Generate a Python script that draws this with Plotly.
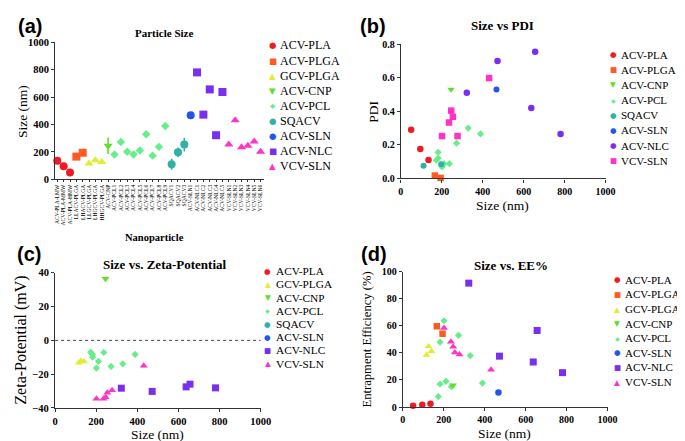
import plotly.graph_objects as go

W, H = 685, 441
SERIF = "Liberation Serif"
SANS = "Liberation Sans"

# ---------------- data ----------------
categories = ["ACV-PLA-LMW", "ACV-PLA-MMW", "ACV-PLA-HMW", "LLACV-PLGA", "LHACV-PLGA",
              "LLGCV-PLGA", "LHGCV-PLGA", "HHGCV-PLGA", "ACV-CNP",
              "ACV-PCL1", "ACV-PCL2", "ACV-PCL3", "ACV-PCL4", "ACV-PCL5", "ACV-PCL6",
              "ACV-PCL7", "ACV-PCL8", "ACV-PCL9", "SQACV1", "SQACV2", "SQACV3", "ACV-SLN1",
              "ACV-NLC1", "ACV-NLC2", "ACV-NLC3", "ACV-NLC4", "ACV-NLC5",
              "VCV-SLN1", "VCV-SLN2", "VCV-SLN3", "VCV-SLN4", "VCV-SLN5", "VCV-SLN6"]

pla_size = [135, 95, 50]
plga_size = [166, 194]
gcv_size = [116, 140, 126]
cnp_size = [245]
cnp_err = [60]
pcl_size = [182, 272, 201, 182, 211, 329, 173, 237, 389]
sq_size = [111, 197, 254]
sq_err = [40, 35, 50]
sln_size = [467]
nlc_size = [780, 472, 656, 322, 637]
vcv_size = [254, 431, 235, 246, 277, 201]

pla_pdi = [0.11, 0.175, 0.29]
plga_pdi = [0.017, 0.003]
cnp_pdi = [0.53]
pcl_pdi = [0.156, 0.21, 0.069, 0.12, 0.088, 0.30, 0.108, 0.088, 0.265]
sq_pdi = [0.075, 0.085, None]
sln_pdi = [0.53]
nlc_pdi = [0.265, 0.70, 0.755, 0.51, 0.42]
vcv_pdi = [0.367, 0.598, 0.333, 0.404, 0.252, 0.252]

gcv_zeta = [-13.3, -12.5, -12.2]
cnp_zeta = [36.4]
pcl_zeta = [-8.3, -15.4, -16.4, -9.9, -12.4, -13.9, -7.0, -7.2, -8.3]
nlc_zeta = [-28.1, -30.2, -25.9, -28.3, -27.5]
vcv_zeta = [-31.0, -15.0, -34.6, -33.7, -29.5, -34.6]

pla_ee = [2.4, 1.7, 1.0]
plga_ee = [59.7, 54.2]
gcv_ee = [38.4, 41.2, 44.8]
cnp_ee = [16]
pcl_ee = [48, 53, 63.8, 17, 19, 38, 7.7, 15, 17.7]
sln_ee = [10.8]
nlc_ee = [25.4, 37.6, 56.6, 91.6, 33.3]
vcv_ee = [40.3, 27.5, 48.2, 44.6, 38.8, 58.5]

colors = {"ACV-PLA": "#f01a22", "ACV-PLGA": "#ff5a22", "GCV-PLGA": "#dfee2e",
          "ACV-CNP": "#5ee02a", "ACV-PCL": "#66ee88", "SQACV": "#2fb2a4",
          "ACV-SLN": "#2255ee", "ACV-NLC": "#7a2ef0", "VCV-SLN": "#ff33c8"}

glyph = {"circle": "●", "square": "■", "triangle-up": "▲",
         "triangle-down": "▼", "diamond": "◆"}


def px(x):
    return x / W


def py(y):
    return 1 - y / H


fig = go.Figure()


def add(xa, ya, name, x, y, symbol, size, err=None):
    m = dict(color=colors[name], symbol=symbol, size=size, line=dict(width=0))
    tr = go.Scatter(x=x, y=y, mode="markers", marker=m, name=name,
                    xaxis=xa, yaxis=ya, showlegend=False, cliponaxis=False)
    if err is not None:
        tr.error_y = dict(type="data", array=err, width=0, thickness=1.6,
                          color=colors[name])
    fig.add_trace(tr)


# (a) particle size by formulation
idx = 0
def cats(n):
    global idx
    out = categories[idx:idx + n]
    idx += n
    return out

add("x", "y", "ACV-PLA", cats(3), pla_size, "circle", 8)
add("x", "y", "ACV-PLGA", cats(2), plga_size, "square", 8)
add("x", "y", "GCV-PLGA", cats(3), gcv_size, "triangle-up", 8)
add("x", "y", "ACV-CNP", cats(1), cnp_size, "triangle-down", 8, cnp_err)
add("x", "y", "ACV-PCL", cats(9), pcl_size, "diamond", 6.5)
add("x", "y", "SQACV", cats(3), sq_size, "circle", 8, sq_err)
add("x", "y", "ACV-SLN", cats(1), sln_size, "circle", 8)
add("x", "y", "ACV-NLC", cats(5), nlc_size, "square", 8)
add("x", "y", "VCV-SLN", cats(6), vcv_size, "triangle-up", 8)

# (b) size vs PDI
add("x2", "y2", "ACV-PLA", pla_size, pla_pdi, "circle", 6.5)
add("x2", "y2", "ACV-PLGA", plga_size, plga_pdi, "square", 6.5)
add("x2", "y2", "ACV-CNP", cnp_size, cnp_pdi, "triangle-down", 6.5)
add("x2", "y2", "ACV-PCL", pcl_size, pcl_pdi, "diamond", 5.5)
add("x2", "y2", "SQACV", sq_size, sq_pdi, "circle", 6)
add("x2", "y2", "ACV-SLN", sln_size, sln_pdi, "circle", 6)
add("x2", "y2", "ACV-NLC", nlc_size, nlc_pdi, "circle", 6.5)
add("x2", "y2", "VCV-SLN", vcv_size, vcv_pdi, "square", 6.5)

# (c) size vs zeta potential
add("x3", "y3", "GCV-PLGA", gcv_size, gcv_zeta, "triangle-up", 7)
add("x3", "y3", "ACV-PCL", pcl_size, pcl_zeta, "diamond", 5.5)
add("x3", "y3", "ACV-CNP", cnp_size, cnp_zeta, "triangle-down", 7)
add("x3", "y3", "ACV-NLC", nlc_size, nlc_zeta, "square", 7)
add("x3", "y3", "VCV-SLN", vcv_size, vcv_zeta, "triangle-up", 7)

# (d) size vs EE%
add("x4", "y4", "ACV-PLA", pla_size, pla_ee, "circle", 6.5)
add("x4", "y4", "ACV-PLGA", plga_size, plga_ee, "square", 6.5)
add("x4", "y4", "GCV-PLGA", gcv_size, gcv_ee, "triangle-up", 7)
add("x4", "y4", "ACV-PCL", pcl_size, pcl_ee, "diamond", 5.5)
add("x4", "y4", "ACV-CNP", cnp_size, cnp_ee, "triangle-down", 7)
add("x4", "y4", "ACV-SLN", sln_size, sln_ee, "circle", 6.5)
add("x4", "y4", "ACV-NLC", nlc_size, nlc_ee, "square", 7)
add("x4", "y4", "VCV-SLN", vcv_size, vcv_ee, "triangle-up", 7)

# ---------------- axes ----------------
tick_font = dict(family=SERIF, size=10.5, color="black", weight="bold")
base = dict(showline=True, linecolor="#333", linewidth=1.2, ticks="outside",
            ticklen=3, tickcolor="#333", showgrid=False, zeroline=False,
            tickfont=tick_font, fixedrange=True)


def dom(a, b):
    return [px(a), px(b)]


def vdom(top, bottom):
    return [py(bottom), py(top)]


fig.update_layout(
    xaxis=dict(base, domain=dom(45, 258), anchor="y", type="category",
               categoryorder="array", categoryarray=categories,
               tickmode="array", tickvals=categories, ticktext=categories,
               range=[-0.35, 32.5], tickangle=-90, ticklen=2,
               tickfont=dict(family=SERIF, size=5.6, color="black")),
    yaxis=dict(base, domain=vdom(29, 170), anchor="x", range=[0, 1000],
               dtick=200),
    xaxis2=dict(base, domain=dom(398, 607), anchor="y2", range=[0, 1000],
                dtick=200, tickfont=dict(tick_font, size=10)),
    yaxis2=dict(base, domain=vdom(31, 169), anchor="x2", range=[0, 0.8],
                dtick=0.2, tickformat=".1f", tickfont=dict(tick_font, size=10)),
    xaxis3=dict(base, domain=dom(45, 255), anchor="y3", range=[0, 1000],
                dtick=200),
    yaxis3=dict(base, domain=vdom(266, 405), anchor="x3", range=[-40, 40],
                dtick=20),
    xaxis4=dict(base, domain=dom(400, 609), anchor="y4", range=[0, 100],
                dtick=20, tickfont=dict(tick_font, size=10)),
    yaxis4=dict(base, domain=vdom(265, 404), anchor="x4", range=[0, 100],
                dtick=20, tickfont=dict(tick_font, size=10)),
)
fig.update_xaxes(selector=dict(anchor="y4"), range=[0, 1000], dtick=200)

# dotted zero line in (c)
fig.add_shape(type="line", xref="x3", yref="y3", x0=0, x1=1000, y0=0, y1=0,
              line=dict(color="#444", width=1, dash="dot"))


def text(x, y, s, size, family=SERIF, bold=False, angle=0, xanchor="center"):
    fig.add_annotation(x=px(x), y=py(y), xref="paper", yref="paper",
                       text=f"<b>{s}</b>" if bold else s, showarrow=False,
                       textangle=angle, xanchor=xanchor, yanchor="middle",
                       font=dict(family=family, size=size, color="black"))


# panel letters
for lab, x, y in [("(a)", 19, 12), ("(b)", 370, 12), ("(c)", 18, 247), ("(d)", 371, 247)]:
    text(x, y, lab, 20, family=SANS, bold=True)

# panel titles
text(156, 20, "Particle Size", 11, bold=True)
text(146, 230, "Nanoparticle", 10.5, bold=True)
text(502, 12, "Size vs PDI", 13, bold=True)
text(157, 258, "Size vs. Zeta-Potential", 13, bold=True)
text(510, 259, "Size vs. EE%", 13, bold=True)

# axis titles
text(12, 100, "Size (nm)", 13.5, angle=-90)
text(370, 100, "PDI", 13.5, angle=-90)
text(502, 197, "Size (nm)", 13.5)
text(10, 335, "Zeta-Potential (mV)", 16, angle=-90)
text(150, 432, "Size (nm)", 13.5)
text(363, 335, "Entrapment Efficiency (%)", 12.6, angle=-90)
text(504, 431, "Size (nm)", 13.5)

# legends
legends = [
    (267, 32.3, 15.55, 12, [("ACV-PLA", "circle"), ("ACV-PLGA", "square"),
                            ("GCV-PLGA", "triangle-up"), ("ACV-CNP", "triangle-down"),
                            ("ACV-PCL", "diamond"), ("SQACV", "circle"),
                            ("ACV-SLN", "circle"), ("ACV-NLC", "square"),
                            ("VCV-SLN", "triangle-up")]),
    (615, 41.7, 15.6, 11, [("ACV-PLA", "circle"), ("ACV-PLGA", "square"),
                           ("ACV-CNP", "triangle-down"), ("ACV-PCL", "diamond"),
                           ("SQACV", "circle"), ("ACV-SLN", "circle"),
                           ("ACV-NLC", "circle"), ("VCV-SLN", "square")]),
    (262, 264.3, 13.6, 11.3, [("ACV-PLA", "circle"), ("GCV-PLGA", "triangle-up"),
                              ("ACV-CNP", "triangle-down"), ("ACV-PCL", "diamond"),
                              ("SQACV", "circle"), ("ACV-SLN", "circle"),
                              ("ACV-NLC", "square"), ("VCV-SLN", "triangle-up")]),
    (619, 273.3, 15.0, 11, [("ACV-PLA", "circle"), ("ACV-PLGA", "square"),
                            ("GCV-PLGA", "triangle-up"), ("ACV-CNP", "triangle-down"),
                            ("ACV-PCL", "diamond"), ("ACV-SLN", "circle"),
                            ("ACV-NLC", "square"), ("VCV-SLN", "triangle-up")]),
]
for mx, y0, step, fs, items in legends:
    gsize = 8.5 if fs >= 12 else 7.5
    for i, (name, sym) in enumerate(items):
        y = y0 + i * step
        fig.add_annotation(x=px(mx), y=py(y), xref="paper", yref="paper",
                           text=glyph[sym], showarrow=False, xanchor="center",
                           yanchor="middle",
                           font=dict(family="DejaVu Sans", size=gsize if sym != "diamond" else gsize * 0.8,
                                     color=colors[name]))
        text(mx + 6, y, name, fs, xanchor="left")

fig.update_layout(width=W, height=H, autosize=False,
                  margin=dict(l=0, r=0, t=0, b=0),
                  paper_bgcolor="white", plot_bgcolor="white",
                  showlegend=False, font=dict(family=SERIF, color="black"))

fig.write_html("out.html", config={"displayModeBar": False})
